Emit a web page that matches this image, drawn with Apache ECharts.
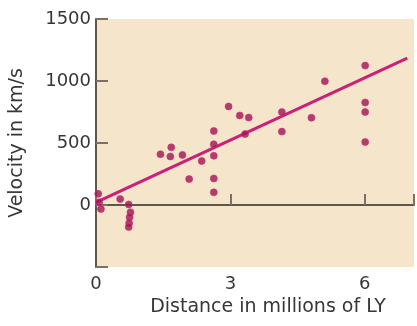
<!DOCTYPE html>
<html>
<head>
<meta charset="utf-8">
<script src="https://cdn.jsdelivr.net/npm/echarts@6/dist/echarts.min.js"></script>
<style>html,body{margin:0;padding:0;background:#fff;}#c{width:417px;height:326px;}</style>
</head>
<body>
<div id="c"></div>
<script>
// Data (distance in millions of LY, velocity in km/s)
var distance = [0.05, 0.07, 0.11, 0.54, 0.73, 0.77, 0.75, 0.74, 0.73,
  1.44, 1.68, 1.66, 1.93, 2.08, 2.36, 2.63, 2.63, 2.63, 2.63, 2.63,
  2.96, 3.21, 3.41, 3.33, 4.15, 4.15, 4.81, 5.11, 6.01, 6.01, 6.01, 6.01];
var velocity = [90, 22, -32, 48, 4, -58, -98, -146, -178,
  409, 465, 391, 404, 209, 355, 597, 490, 397, 214, 102,
  795, 722, 705, 573, 749, 592, 704, 998, 1124, 827, 750, 508];
var fitX = [0, 6.95];
var fitY = [22, 1185];
var xTicks = [0, 3, 6];
var yTicks = [0, 500, 1000, 1500];

var points = distance.map(function (d, i) { return [d, velocity[i]]; });
var fit = fitX.map(function (d, i) { return [d, fitY[i]]; });

var chart = echarts.init(document.getElementById('c'));
var font = '"DejaVu Sans", sans-serif';
chart.setOption({
  animation: false,
  grid: { left: 96, top: 19, right: 0, bottom: 59, show: true, backgroundColor: '#f5e5cb', borderWidth: 0 },
  xAxis: {
    type: 'value', min: 0, max: 7.1, interval: 3,
    name: 'Distance in millions of LY', nameLocation: 'middle', nameGap: 29,
    nameTextStyle: { color: '#363636', fontSize: 19, fontFamily: font, padding: [0, 0, 0, 26] },
    axisLine: { show: true, lineStyle: { color: '#5f574c', width: 2 } },
    axisTick: { show: true, inside: true, length: 11, lineStyle: { color: '#7a7165', width: 2 } },
    axisLabel: { color: '#363636', fontSize: 18, fontFamily: font, margin: 8,
      formatter: function (v) { return xTicks.indexOf(v) >= 0 ? String(v) : ''; } },
    splitLine: { show: false }
  },
  yAxis: {
    type: 'value', min: -500, max: 1500, interval: 500,
    name: 'Velocity in km/s', nameLocation: 'middle', nameGap: 61,
    nameTextStyle: { color: '#363636', fontSize: 19, fontFamily: font, padding: [0, 0, 8, 0] },
    axisLine: { show: true, lineStyle: { color: '#5f574c', width: 2 } },
    axisTick: { show: true, inside: true, length: 12, lineStyle: { color: '#7a7165', width: 2 } },
    axisLabel: { color: '#363636', fontSize: 18, fontFamily: font, margin: 5,
      formatter: function (v) { return yTicks.indexOf(v) >= 0 ? String(v) : ''; } },
    splitLine: { show: false }
  },
  series: [
    {
      type: 'line', data: fit, symbol: 'none',
      lineStyle: { color: '#cc1f78', width: 3 }, z: 2
    },
    {
      type: 'scatter', data: points, symbolSize: 7,
      itemStyle: { color: '#9e1450', borderColor: '#cf2e7d', borderWidth: 0.8 }, z: 3
    }
  ]
});
</script>
</body>
</html>
